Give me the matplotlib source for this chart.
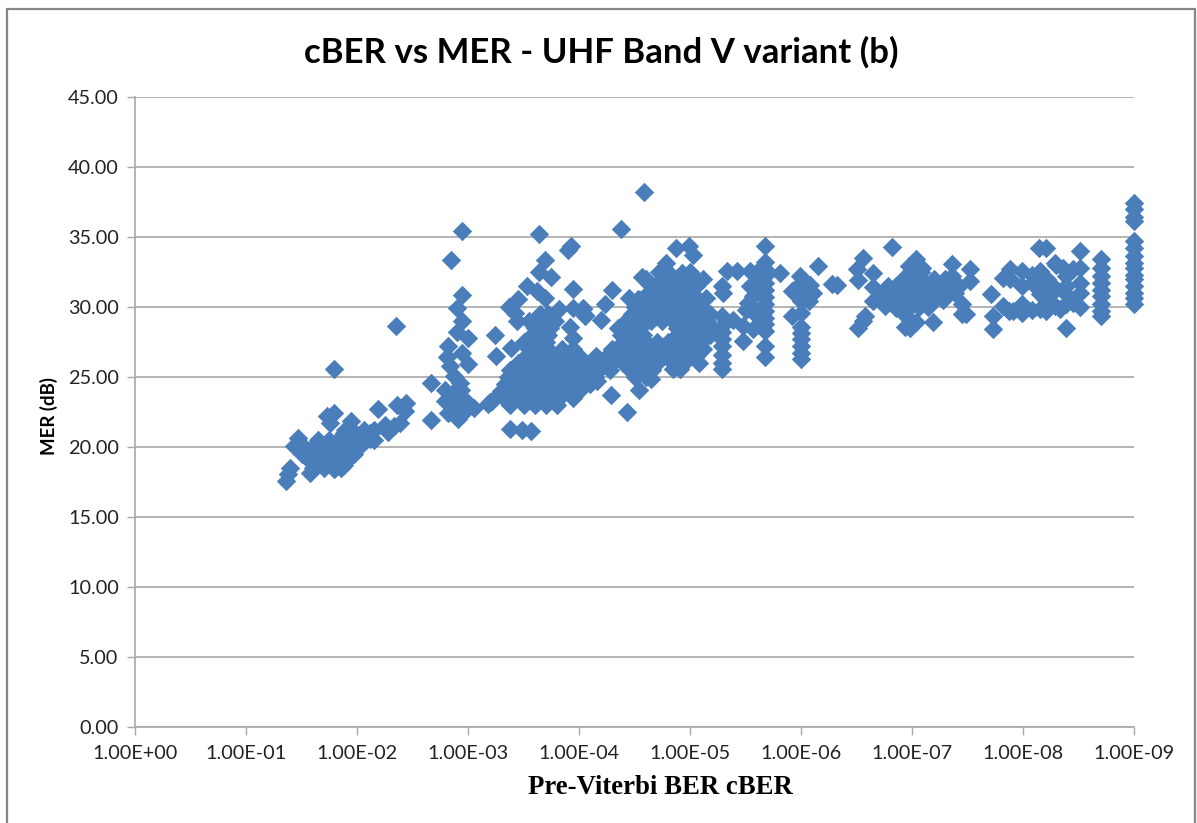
# cBER vs MER scatter, x axis reversed log

import matplotlib
matplotlib.use('Agg')
import matplotlib.pyplot as plt
from matplotlib.patches import Rectangle

# x values are the BER exponent (BER = 10**-exp)
low_exp = [1.36,1.38,1.40,1.43,1.47,1.58,1.60,1.79,1.88,1.73,1.79,1.76,1.95,1.89,1.79,
           1.88,1.98,2.05,2.12,1.65,1.75,1.83,1.92,2.00,2.08,2.15,1.52,1.60,1.68,1.76,1.84,1.92,2.00,
           1.50,1.58,1.66,1.74,1.82,1.90,1.97,1.58,1.66,1.74,1.82,1.90,1.60,1.70,1.80,1.86,
           2.19,2.36,2.44,2.43,2.25,2.33,2.39,2.28,2.15,2.06,2.12,2.03,2.35]
low_mer = [17.55,18.05,18.5,20.05,20.65,18.15,18.9,18.4,18.75,22.2,22.45,21.75,21.85,21.25,25.6,
           21.0,21.0,21.0,21.0,20.5,20.5,20.5,20.5,20.5,20.5,20.5,20.0,20.0,20.0,20.0,20.0,20.0,20.0,
           19.5,19.5,19.5,19.5,19.5,19.5,19.5,19.0,19.0,19.0,19.0,19.0,18.5,18.5,18.5,18.5,
           22.75,23.0,23.15,22.55,21.6,21.5,21.75,21.05,21.25,21.25,20.55,20.05,28.65]

col3_exp = [2.95,2.85,2.95,2.90,2.95,2.90,3.00,2.82,2.95,2.81,3.00,2.84,2.67,2.67,
            2.87,2.93,2.79,2.87,2.94,2.79,2.87,2.96,3.05,2.82,2.91,2.99,2.90,3.20,3.22,3.18]
col3_mer = [35.4,33.35,30.85,29.9,29.0,28.2,27.8,27.2,26.7,26.4,25.9,25.8,24.6,21.9,
            25.05,24.6,24.1,23.9,24.1,23.3,23.05,23.4,22.8,22.45,22.0,22.7,22.45,23.2,23.3,23.05]

mid_exp = [3.24,3.25,3.39,3.38,3.49,3.57,3.64,3.93,3.90,3.69,3.64,3.75,3.53,3.62,3.69,3.95,3.37,3.45,3.44,3.42,
           3.82,3.95,4.04,4.05,3.92,3.95,
           3.65,3.72,3.55,3.62,3.70,3.78,3.60,3.68,3.74,3.58,3.66,3.72,3.50,3.60,3.70,
           3.55,3.63,3.72,3.85,3.95,3.52,3.60,3.68,3.76,3.85,3.92,4.00,
           3.45,3.55,3.65,3.75,3.85,3.95,4.05,3.38,3.48,3.58,3.68,3.78,3.88,3.98,4.08,
           3.36,3.44,3.54,3.64,3.74,3.84,3.94,4.04,4.14,3.33,3.42,3.52,3.62,3.72,3.82,3.92,4.02,4.10,
           3.30,3.40,3.50,3.60,3.70,3.80,3.90,4.00,3.32,3.42,3.52,3.62,3.72,3.82,3.95,3.38,3.50,3.60,3.70,3.80]
mid_mer = [28.0,26.5,27.1,21.3,21.25,21.15,35.25,34.35,34.1,33.35,32.5,32.15,31.5,31.15,30.65,31.3,30.0,30.55,29.0,29.6,
           29.85,29.9,29.85,29.4,28.6,27.8,
           29.5,29.5,29.0,29.0,29.0,29.0,28.5,28.5,28.5,28.0,28.0,28.0,27.5,27.5,27.5,
           27.0,27.0,27.0,27.0,27.0,26.5,26.5,26.5,26.5,26.5,26.5,26.5,
           26.0,26.0,26.0,26.0,26.0,26.0,26.0,25.5,25.5,25.5,25.5,25.5,25.5,25.5,25.5,
           25.0,25.0,25.0,25.0,25.0,25.0,25.0,25.0,25.0,24.5,24.5,24.5,24.5,24.5,24.5,24.5,24.5,24.5,
           24.0,24.0,24.0,24.0,24.0,24.0,24.0,24.0,23.5,23.5,23.5,23.5,23.5,23.5,23.5,23.0,23.0,23.0,23.0,23.0]

core_exp = [4.59,4.38,4.30,4.23,4.20,4.45,4.53,4.57,4.29,4.43,4.54,4.16,4.02,4.04,4.05,4.87,4.99,5.03,
            4.78,4.72,4.80,4.93,5.00,4.60,4.75,4.85,4.95,5.05,5.12,4.65,4.75,4.85,4.95,5.05,
            4.62,4.72,4.82,4.92,5.02,4.55,4.68,4.78,4.88,4.98,5.05,5.14,
            4.50,4.60,4.70,4.80,4.90,5.00,5.10,4.48,4.58,4.68,4.78,4.88,4.98,5.08,5.18,
            4.42,4.52,4.65,4.75,4.85,4.95,5.05,5.15,4.35,4.45,4.55,4.88,4.98,5.08,5.20,
            4.38,4.48,4.58,4.88,4.98,5.08,5.18,4.40,4.50,4.60,4.70,4.80,4.90,5.00,5.10,
            4.30,4.42,4.52,4.62,4.72,4.82,4.92,5.02,5.12,4.15,4.25,4.35,4.45,4.55,4.65,4.75,4.85,4.95,5.05,
            4.10,4.20,4.30,4.40,4.50,4.60,4.70,4.85,4.95,5.08,4.18,4.28,4.46,4.56,4.66,4.85,4.91,4.50,4.60,4.65]
core_mer = [38.2,35.6,31.2,30.2,29.05,30.65,30.55,32.15,23.7,22.5,24.05,24.7,24.6,29.95,29.35,34.25,34.35,33.7,
            33.15,32.5,32.5,32.4,32.5,32.0,32.0,32.0,32.0,32.0,32.0,31.5,31.5,31.5,31.5,31.5,
            31.0,31.0,31.0,31.0,31.0,30.5,30.5,30.5,30.5,30.5,30.5,30.65,
            30.0,30.0,30.0,30.0,30.0,30.0,30.0,29.5,29.5,29.5,29.5,29.5,29.5,29.5,29.5,
            29.0,29.0,29.0,29.0,29.0,29.0,29.0,29.0,28.5,28.5,28.5,28.5,28.5,28.5,28.5,
            28.0,28.0,28.0,28.0,28.0,28.0,28.0,27.5,27.5,27.5,27.5,27.5,27.5,27.5,27.5,
            27.0,27.0,27.0,27.0,27.0,27.0,27.0,27.0,27.0,26.5,26.5,26.5,26.5,26.5,26.5,26.5,26.5,26.5,26.5,
            26.0,26.0,26.0,26.0,26.0,26.0,26.0,26.0,26.0,26.0,25.5,25.5,25.5,25.5,25.5,25.55,25.55,25.0,25.0,24.85]

band5_exp = [5.29,5.29,5.29,5.29,5.29,5.29,5.29,5.29,5.29,5.30,5.33,5.42,5.54,5.39,5.48,5.48,5.52,5.57,5.54,5.50,5.60,5.60,5.63,5.57,
             5.68,5.68,5.68,5.68,5.68,5.68,5.68,5.68,5.68,5.68,5.68,5.68,5.68,5.68,5.63,5.81]
band5_mer = [31.5,29.35,28.65,28.2,27.7,27.2,26.6,26.0,25.55,31.0,32.55,32.6,32.6,29.1,28.65,27.6,30.3,30.8,31.5,29.8,31.7,29.35,29.85,28.4,
             34.35,33.2,32.7,32.2,31.7,31.2,30.7,30.2,29.7,29.2,28.8,28.3,27.2,26.4,32.7,32.45]

band6_exp = [5.99,6.00,6.00,6.00,6.00,6.00,6.00,6.00,6.00,6.00,6.00,5.92,5.92,6.08,6.11,6.07,6.15,6.28,6.32,
             6.56,6.50,6.51,6.65,6.65,6.65,6.58,6.51,6.56,6.76,6.86,6.92,6.98]
band6_mer = [32.25,31.75,31.15,30.4,29.6,28.6,28.15,27.7,27.2,26.75,26.3,29.35,31.15,31.6,31.0,30.4,32.9,31.65,31.6,
             33.5,32.75,31.9,32.45,31.45,30.4,29.35,28.5,29.0,30.05,29.95,29.6,29.1]

band7_exp = [6.82,6.98,7.04,6.94,7.19,7.04,7.09,6.97,7.36,7.52,7.52,7.45,7.45,7.49,7.36,
             7.00,7.08,6.92,7.00,7.08,7.20,7.30,6.78,6.86,6.94,7.02,7.10,7.18,7.26,7.34,7.42,
             6.75,6.83,6.91,6.99,7.07,7.15,7.23,7.31,7.39,6.80,6.88,6.96,7.04,7.12,7.20,7.28,6.90,6.98,7.06,7.14]
band7_mer = [34.3,28.5,28.9,28.6,28.9,33.45,32.8,32.9,33.05,32.7,31.85,30.2,29.5,29.5,32.2,
             32.5,32.5,32.0,32.0,32.0,32.0,32.0,31.5,31.5,31.5,31.5,31.5,31.5,31.5,31.5,31.5,
             31.0,31.0,31.0,31.0,31.0,31.0,31.0,31.0,31.0,30.5,30.5,30.5,30.5,30.5,30.5,30.5,30.0,30.0,30.0,30.0]

band8_exp = [7.71,7.73,7.73,7.82,7.88,7.88,7.99,7.99,7.87,7.99,7.99,7.91,7.82,
             8.14,8.21,8.15,8.15,8.15,8.15,8.15,8.21,8.29,8.29,8.36,8.39,8.39,8.39,8.39,8.33,8.39,
             8.51,8.51,8.51,8.51,8.51,8.45,8.45,
             8.22,8.22,8.08,8.08,8.30,8.30,8.08,8.24]
band8_mer = [30.9,29.35,28.4,32.1,32.7,32.0,32.55,31.5,29.7,29.6,30.2,29.7,30.05,
             34.25,34.25,32.6,32.0,31.5,30.9,29.85,29.7,33.15,30.05,32.8,32.2,31.5,30.9,30.2,29.85,28.5,
             34.0,32.8,31.75,31.0,30.0,32.7,30.3,
             32.0,31.4,32.3,31.7,33.0,31.3,29.8,30.4]

col87_exp = [8.70,8.70,8.70,8.70,8.70,8.70,8.70,8.70,8.70]
col87_mer = [33.45,32.8,32.2,31.75,31.25,30.8,30.2,29.7,29.35]

col9_exp = [9,9,9,9,9,9,9,9,9,9,9,9,9,9,9]
col9_mer = [37.45,37.0,36.4,36.15,34.7,34.25,33.65,33.15,32.8,32.3,32.0,31.5,31.0,30.65,30.2]

y_ticks = [0,5,10,15,20,25,30,35,40,45]
x_exps = [0,1,2,3,4,5,6,7,8,9]
x_labels = ['1.00E+00','1.00E-01','1.00E-02','1.00E-03','1.00E-04',
            '1.00E-05','1.00E-06','1.00E-07','1.00E-08','1.00E-09']

W, H = 1197, 823
fig = plt.figure(figsize=(W/100, H/100), dpi=100)
ax = fig.add_axes([135/W, 1-727/H, (1134-135)/W, (727-97)/H])

for e, m in [(low_exp, low_mer), (col3_exp, col3_mer), (mid_exp, mid_mer), (core_exp, core_mer),
             (band5_exp, band5_mer), (band6_exp, band6_mer), (band7_exp, band7_mer),
             (band8_exp, band8_mer), (col87_exp, col87_mer), (col9_exp, col9_mer)]:
    ax.scatter([10.0**-v for v in e], m, marker='D', s=98, color='#4A7EBB', linewidths=0, zorder=3, clip_on=False)

ax.set_xscale('log')
ax.set_xlim(1, 1e-9)
ax.set_ylim(0, 45)
ax.set_xticks([10.0**-v for v in x_exps])
ax.set_xticklabels(x_labels)
ax.minorticks_off()
ax.set_yticks(y_ticks)
ax.set_yticklabels(['%.2f' % v for v in y_ticks])

ax.grid(axis='y', color='#A8A8A8', linewidth=1.2)
ax.set_axisbelow(True)
for side in ['top', 'right']:
    ax.spines[side].set_visible(False)
for side in ['left', 'bottom']:
    ax.spines[side].set_color('#A8A8A8')
    ax.spines[side].set_linewidth(1.2)
ax.tick_params(axis='both', length=5.8, width=1, color='#A8A8A8', labelsize=14.3, labelcolor='#222222')
ax.tick_params(axis='x', pad=7)
ax.tick_params(axis='y', pad=6)
for t in ax.get_xticklabels() + ax.get_yticklabels():
    t.set_family('Lato')

fig.text(601/W, 1-52/H, 'cBER vs MER - UHF Band V variant (b)', ha='center', va='center',
         family='Lato', fontweight='bold', fontsize=25, color='black')
fig.text(660/W, 1-787/H, 'Pre-Viterbi BER cBER', ha='center', va='center',
         family='Liberation Serif', fontweight='bold', fontsize=19.3, color='black')
fig.text(49/W, 1-416/H, 'MER (dB)', rotation=90, ha='center', va='center',
         family='Lato', fontweight='bold', fontsize=13.4, color='black')

# chart area border, runs off the bottom edge
fig.add_artist(Rectangle((7/W, -0.01), (1195-7)/W, 1.01-9/H, transform=fig.transFigure,
                         fill=False, edgecolor='#868686', linewidth=1.6))

fig.savefig('out.png', dpi=100)
